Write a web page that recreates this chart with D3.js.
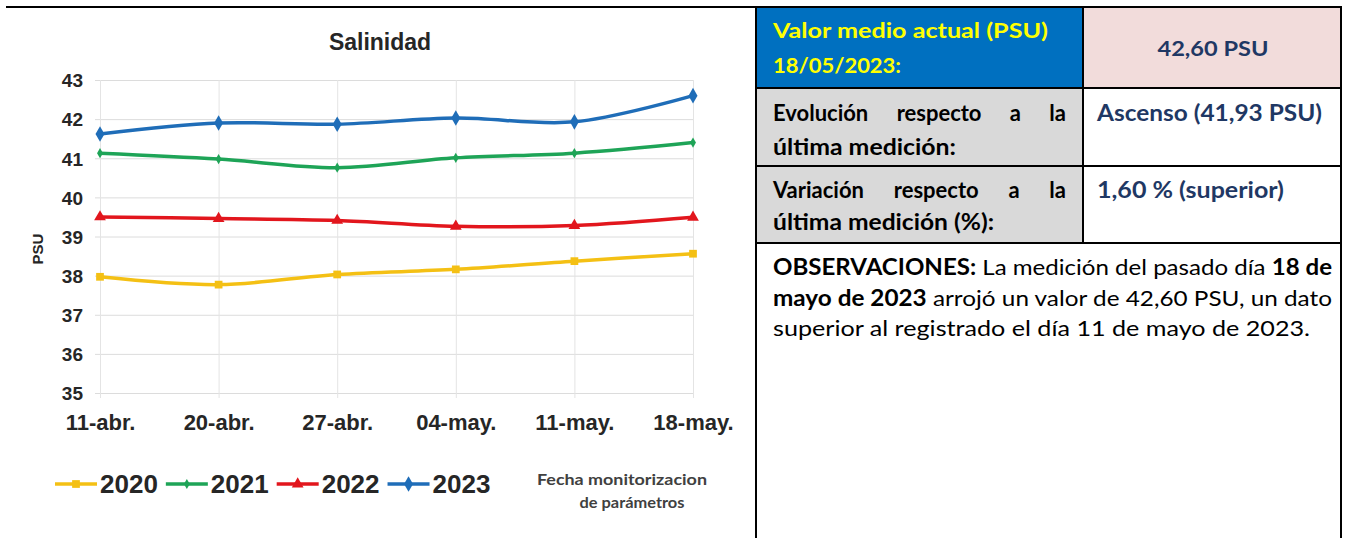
<!DOCTYPE html>
<html>
<head>
<meta charset="utf-8">
<script src="https://cdn.jsdelivr.net/npm/d3@7"></script>
<style>
  body { margin: 0; background: #fff; }
  svg { display: block; }
  .cell { font-family: Lato, "Open Sans", sans-serif; }
</style>
</head>
<body>
<svg id="chart" width="1349" height="538"></svg>
<script>
// data
var categories = ["11-abr.", "20-abr.", "27-abr.", "04-may.", "11-may.", "18-may."];
var years = ["2020", "2021", "2022", "2023"];
var s2020 = [37.97, 37.77, 38.03, 38.16, 38.37, 38.56];
var s2021 = [41.13, 40.98, 40.76, 41.01, 41.13, 41.40];
var s2022 = [39.50, 39.46, 39.41, 39.26, 39.28, 39.49];
var s2023 = [41.62, 41.90, 41.87, 42.03, 41.93, 42.60];
var yTicks = [35, 36, 37, 38, 39, 40, 41, 42, 43];
var colors = ["#f4c014", "#1ea457", "#e2161d", "#1f6db8"];
var symbols = [d3.symbolSquare, d3.symbolDiamond, d3.symbolTriangle, d3.symbolDiamond];
var symbolSizes = [60, 30, 60, 70];

var seriesList = [s2020, s2021, s2022, s2023];

var svg = d3.select("#chart");

// --- frame ---
svg.append("line").attr("x1", 6).attr("x2", 1342).attr("y1", 7).attr("y2", 7)
  .attr("stroke", "#000").attr("stroke-width", 2);

// --- chart ---
var g = svg.append("g").attr("font-family", "'Liberation Sans', Arial, sans-serif");

var x = d3.scalePoint().domain(categories).range([100, 693]);
var y = d3.scaleLinear().domain([35, 43]).range([393, 80]);

var yGrid = g.append("g")
  .attr("transform", "translate(95,0)")
  .call(d3.axisLeft(y).tickValues(yTicks).tickSize(-598).tickFormat(""));
yGrid.select(".domain").remove();
yGrid.selectAll("line").attr("stroke", "#dcdcdc");

var xGrid = g.append("g")
  .attr("transform", "translate(0,398)")
  .call(d3.axisBottom(x).tickSize(-318).tickFormat(""));
xGrid.select(".domain").remove();
xGrid.selectAll("line").attr("stroke", "#e4e4e4");

var yAxis = g.append("g")
  .attr("transform", "translate(83,0)")
  .call(d3.axisLeft(y).tickValues(yTicks).tickSize(0).tickPadding(0));
yAxis.select(".domain").remove();
yAxis.selectAll("text")
  .attr("font-size", 19).attr("font-weight", "bold").attr("fill", "#262626")
  .attr("dy", "0.36em");

var xAxis = g.append("g")
  .attr("transform", "translate(0,430)")
  .call(d3.axisBottom(x).tickSize(0).tickPadding(0));
xAxis.select(".domain").remove();
xAxis.selectAll("text")
  .attr("font-size", 22).attr("font-weight", "bold").attr("fill", "#262626")
  .attr("y", 0).attr("dy", 0);

g.append("text")
  .attr("x", 380).attr("y", 50)
  .attr("text-anchor", "middle")
  .attr("font-size", 23).attr("font-weight", "bold").attr("fill", "#262626")
  .text("Salinidad");

g.append("text")
  .attr("transform", "translate(43,249) rotate(-90)")
  .attr("text-anchor", "middle")
  .attr("font-size", 15).attr("font-weight", "bold").attr("fill", "#262626")
  .text("PSU");

var line = d3.line()
  .x(function(d, i) { return x(categories[i]); })
  .y(function(d) { return y(d); })
  .curve(d3.curveCatmullRom.alpha(0.5));

seriesList.forEach(function(s, k) {
  g.append("path")
    .datum(s)
    .attr("d", line)
    .attr("fill", "none")
    .attr("stroke", colors[k])
    .attr("stroke-width", 3.5)
    .attr("stroke-linejoin", "round");

  g.append("g").selectAll("path")
    .data(s)
    .enter().append("path")
    .attr("transform", function(d, i) { return "translate(" + x(categories[i]) + "," + y(d) + ")"; })
    .attr("d", d3.symbol().type(symbols[k]).size(symbolSizes[k]))
    .attr("fill", colors[k]);
});

// legend
var legend = g.append("g").attr("transform", "translate(0,484)");
var lx = 55;
years.forEach(function(yr, k) {
  var item = legend.append("g").attr("transform", "translate(" + lx + ",0)");
  item.append("line").attr("x1", 0).attr("x2", 42).attr("y1", 0).attr("y2", 0)
    .attr("stroke", colors[k]).attr("stroke-width", 3.5);
  item.append("path").attr("transform", "translate(21,0)")
    .attr("d", d3.symbol().type(symbols[k]).size(symbolSizes[k]))
    .attr("fill", colors[k]);
  var t = item.append("text").attr("x", 45).attr("y", 9)
    .attr("font-size", 26).attr("font-weight", "bold").attr("fill", "#262626")
    .text(yr);
  lx += 45 + t.node().getComputedTextLength() + 8;
});

g.append("text")
  .attr("x", 622).attr("y", 485)
  .attr("text-anchor", "middle")
  .attr("font-family", "Lato, sans-serif")
  .attr("font-size", 16).attr("font-weight", "bold").attr("fill", "#404040")
  .attr("textLength", 170).attr("lengthAdjust", "spacingAndGlyphs")
  .text("Fecha monitorizacion");
g.append("text")
  .attr("x", 632).attr("y", 508)
  .attr("text-anchor", "middle")
  .attr("font-family", "Lato, sans-serif")
  .attr("font-size", 16).attr("font-weight", "bold").attr("fill", "#404040")
  .attr("textLength", 105).attr("lengthAdjust", "spacingAndGlyphs")
  .text("de parámetros");

// --- table ---
var t = svg.append("g").attr("class", "cell");
var colL = 757, colM = 1083, colR = 1341;
var rows = [7, 88, 166, 243];

t.append("rect").attr("x", colL).attr("y", rows[0]).attr("width", colM - colL).attr("height", rows[1] - rows[0]).attr("fill", "#0070c0");
t.append("rect").attr("x", colM).attr("y", rows[0]).attr("width", colR - colM).attr("height", rows[1] - rows[0]).attr("fill", "#f2dcdb");
t.append("rect").attr("x", colL).attr("y", rows[1]).attr("width", colM - colL).attr("height", rows[3] - rows[1]).attr("fill", "#d9d9d9");

function hline(yy, x1, x2) {
  t.append("line").attr("x1", x1).attr("x2", x2).attr("y1", yy).attr("y2", yy)
    .attr("stroke", "#000").attr("stroke-width", 2);
}
function vline(xx, y1, y2) {
  t.append("line").attr("x1", xx).attr("x2", xx).attr("y1", y1).attr("y2", y2)
    .attr("stroke", "#000").attr("stroke-width", 2);
}
hline(rows[0], colL - 1, colR + 1);
hline(rows[1], colL, colR);
hline(rows[2], colL, colR);
hline(rows[3], colL, colR);
vline(colL - 1, 6, 538);
vline(colM, rows[0], rows[3]);
vline(colR, 6, 538);

function txt(str, xx, yy, opts) {
  var el = t.append("text").attr("x", xx).attr("y", yy)
    .attr("font-size", opts.size || 21)
    .attr("font-weight", opts.bold ? "bold" : "normal")
    .attr("fill", opts.fill || "#000")
    .attr("text-anchor", opts.anchor || "start")
    .text(str);
  if (opts.width) {
    el.attr("textLength", opts.width).attr("lengthAdjust", "spacingAndGlyphs");
  }
  return el;
}

// justified line: spread words over the given width
function justify(words, xx, yy, width, opts) {
  var els = words.map(function(w) { return txt(w, 0, yy, opts); });
  var total = d3.sum(els, function(e) { return e.node().getComputedTextLength(); });
  var gap = (width - total) / (words.length - 1);
  var cx = xx;
  els.forEach(function(e) {
    e.attr("x", cx);
    cx += e.node().getComputedTextLength() + gap;
  });
}

txt("Valor medio actual (PSU)", 773, 38, {bold: true, fill: "#ffff00", width: 275});
txt("18/05/2023:", 773, 73, {bold: true, fill: "#ffff00", width: 128});
txt("42,60 PSU", 1213, 56, {bold: true, fill: "#1f3864", anchor: "middle", width: 111});

justify(["Evolución", "respecto", "a", "la"], 773, 121, 293, {bold: true, size: 22});
txt("última medición:", 773, 155, {bold: true, width: 183, size: 22});
justify(["Variación", "respecto", "a", "la"], 773, 198, 293, {bold: true, size: 22});
txt("última medición (%):", 773, 230, {bold: true, width: 221, size: 22});

txt("Ascenso (41,93 PSU)", 1097, 121, {bold: true, fill: "#1f3864", width: 225, size: 22});
txt("1,60 % (superior)", 1097, 198, {bold: true, fill: "#1f3864", width: 187, size: 22});

// observations
var obs = [
  [["OBSERVACIONES:", true], [" La medición del pasado día ", false], ["18 de", true]],
  [["mayo de 2023", true], [" arrojó un valor de 42,60 PSU, un dato", false]],
  [["superior al registrado el día 11 de mayo de 2023.", false]]
];
var obsWidths = [559, 559, 537];
var obsY = [275, 306, 336];
obs.forEach(function(parts, i) {
  var el = t.append("text").attr("x", 773).attr("y", obsY[i])
    .attr("font-size", 22).attr("fill", "#000")
    .attr("textLength", obsWidths[i]).attr("lengthAdjust", "spacingAndGlyphs");
  parts.forEach(function(p) {
    el.append("tspan").attr("font-weight", p[1] ? "bold" : "normal").text(p[0]);
  });
});
</script>
</body>
</html>
